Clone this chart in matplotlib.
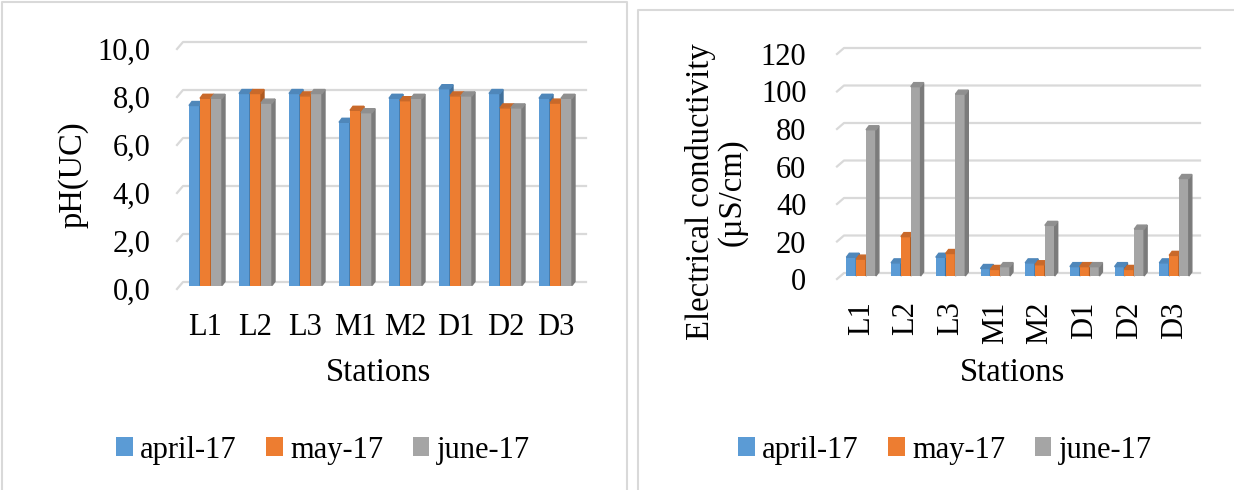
import matplotlib
matplotlib.use('Agg')
import matplotlib.pyplot as plt
from matplotlib.patches import Polygon, Patch
from matplotlib.lines import Line2D
from matplotlib.ticker import FuncFormatter
import numpy as np

# --- Data
stations = ['L1', 'L2', 'L3', 'M1', 'M2', 'D1', 'D2', 'D3']
months = ['april-17', 'may-17', 'june-17']

ph_april = [7.5, 8.0, 8.0, 6.8, 7.8, 8.2, 8.0, 7.8]
ph_may = [7.8, 8.0, 7.9, 7.3, 7.7, 7.9, 7.4, 7.6]
ph_june = [7.8, 7.6, 8.0, 7.2, 7.8, 7.9, 7.4, 7.8]

ec_april = [10, 7, 10, 4, 7, 5, 5, 7]
ec_may = [9, 21, 12, 3.5, 6, 5, 3.5, 11]
ec_june = [78, 101, 97, 5, 27, 5, 25, 52]

colors = ['#5B9BD5', '#ED7D31', '#A5A5A5']
side_colors = ['#41719C', '#AE5A21', '#7B7B7B']
top_colors = ['#4F87BA', '#C9692A', '#8F8F8F']
grid_color = '#D9D9D9'

plt.rcParams['font.family'] = ['Liberation Serif', 'DejaVu Serif']
FS = 22      # ticks, legend
FS_T = 23.5  # axis titles

W, H = 1234, 490
fig = plt.figure(figsize=(W / 100, H / 100), dpi=100)


def px_axes(x0, x1, ytop, ybot):
    return fig.add_axes([x0 / W, 1 - ybot / H, (x1 - x0) / W, (ybot - ytop) / H])


def draw_3d(ax, series, ymax, step, bar_w=0.22, bar_dx=3, bar_dy=4, wall_dx=6, wall_dy=7):
    xlo, xhi = ax.get_xlim()
    bb = ax.get_position()
    ux = (xhi - xlo) / (bb.width * W)   # data units per pixel
    uy = ymax / (bb.height * H)
    # gridlines on the back wall
    for v in np.arange(0, ymax + step / 2, step):
        ax.plot([xlo, xlo + wall_dx * ux, xhi], [v, v + wall_dy * uy, v + wall_dy * uy],
                color=grid_color, lw=1.6, clip_on=False, zorder=1)
    # bars sit a little way into the floor depth
    sy = wall_dy / 2 * uy
    dx, dy = bar_dx * ux, bar_dy * uy
    x = np.arange(len(stations))
    for k, vals in enumerate(series):
        xs = x + (k - 1) * bar_w
        ax.bar(xs, vals, width=bar_w, bottom=sy, color=colors[k], zorder=3 + k)
        for xc, h in zip(xs, vals):
            xl, xr = xc - bar_w / 2, xc + bar_w / 2
            top = h + sy
            ax.add_patch(Polygon([(xr, sy), (xr + dx, sy + dy), (xr + dx, top + dy), (xr, top)],
                                 closed=True, color=side_colors[k], zorder=3 + k, clip_on=False))
            ax.add_patch(Polygon([(xl, top), (xl + dx, top + dy), (xr + dx, top + dy), (xr, top)],
                                 closed=True, color=top_colors[k], zorder=3 + k, clip_on=False))
    for s in ax.spines.values():
        s.set_visible(False)
    ax.set_ylim(0, ymax)
    ax.set_xticks(x)
    ax.set_xticklabels(stations)
    ax.tick_params(length=0, labelsize=FS)


# --- Left chart: pH
ax1 = px_axes(177, 586, 49, 289)
ax1.set_xlim(-0.57, 7.61)
draw_3d(ax1, [ph_april, ph_may, ph_june], 10, 2)
ax1.set_yticks(np.arange(0, 10.1, 2))
ax1.yaxis.set_major_formatter(FuncFormatter(lambda v, p: f'{v:.1f}'.replace('.', ',')))
ax1.tick_params(axis='y', pad=19)
ax1.tick_params(axis='x', pad=17)
fig.text(73 / W, 1 - 175 / H, 'pH(UC)', rotation=90, ha='center', va='center', fontsize=FS_T)
fig.text(378 / W, 1 - 373 / H, 'Stations', ha='center', va='center', fontsize=FS_T)

# --- Right chart: conductivity
ax2 = px_axes(837, 1200, 54, 279)
ax2.set_xlim(-0.54, 7.58)
draw_3d(ax2, [ec_april, ec_may, ec_june], 120, 20, wall_dx=7, wall_dy=6)
ax2.set_yticks(np.arange(0, 121, 20))
ax2.tick_params(axis='y', pad=22)
ax2.tick_params(axis='x', pad=16, labelrotation=90)
fig.text(716 / W, 1 - 192 / H, 'Electrical conductivity\n(µS/cm)', rotation=90,
         ha='center', va='center', fontsize=FS_T, linespacing=1.05)
fig.text(1013 / W, 1 - 373 / H, 'Stations', ha='center', va='center', fontsize=FS_T)

# --- Legends
handles = [Patch(facecolor=c, edgecolor='none') for c in colors]
for cx in [323, 945]:
    fig.legend(handles, months, loc='center', bbox_to_anchor=(cx / W, 1 - 450 / H),
               ncol=3, frameon=False, fontsize=FS, handlelength=0.55, handleheight=0.55,
               handletextpad=0.25, columnspacing=0.95)

# --- Panel borders
for xs, ys in [([2, 2, 627, 627], [H, 2, 2, H]), ([638, 638, W], [H, 10, 10])]:
    fig.add_artist(Line2D([x / W for x in xs], [1 - y / H for y in ys],
                          color=grid_color, lw=1.5, transform=fig.transFigure))

fig.savefig('out.png', dpi=100)
